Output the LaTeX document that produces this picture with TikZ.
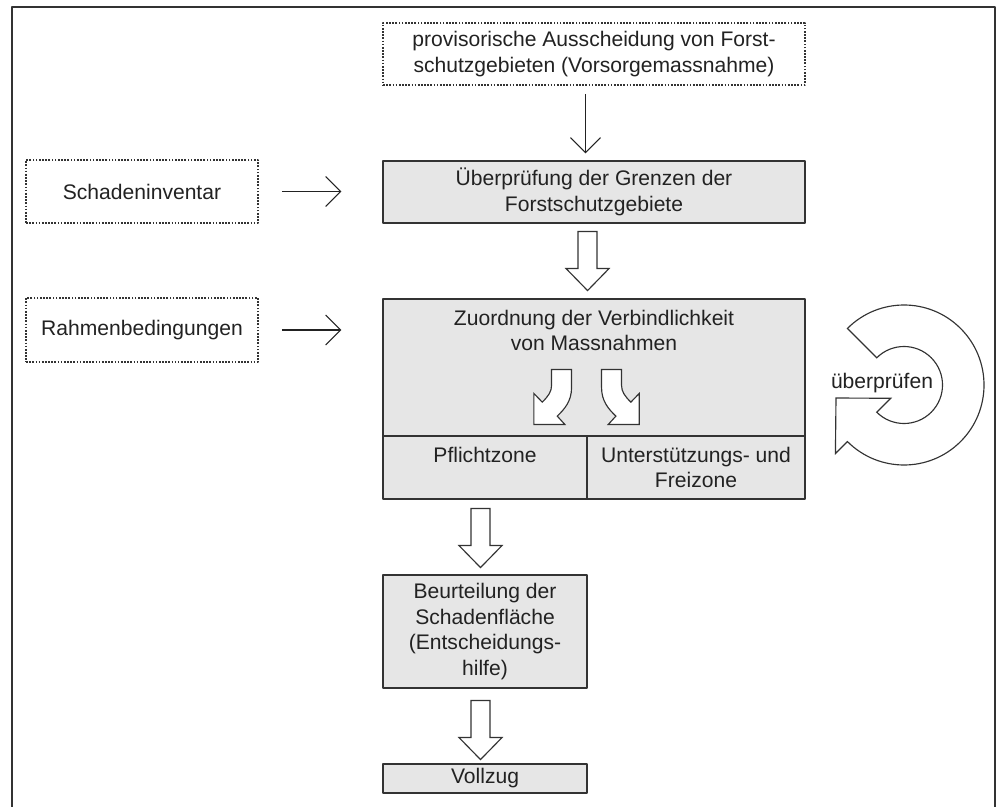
\documentclass[tikz,border=0pt]{standalone}
\usepackage{fontspec}
\setmainfont{Liberation Sans}
\usetikzlibrary{arrows.meta,calc}
\definecolor{boxgray}{HTML}{E6E6E6}
\definecolor{linegray}{HTML}{333333}
\definecolor{txtgray}{HTML}{222222}
\tikzset{
  every node/.style={font=\fontsize{12}{14.6}\selectfont, text=txtgray, align=center},
  dotbox/.style={draw=linegray, line width=0.95pt, dash pattern=on 0.95pt off 0.85pt, inner sep=0pt},
  graybox/.style={draw=linegray, line width=0.65pt, fill=boxgray, inner sep=0pt},
  celltext/.style={anchor=north, inner sep=0pt, yshift=-0.22cm},
  thinarrow/.style={draw=txtgray, line width=0.65pt, -{Straight Barb[length=0.3cm, width=0.6cm]}},
  sidearrow/.style={thinarrow, shorten <=0.46cm, shorten >=0.82cm},
  hollow/.style={draw=linegray, line width=0.65pt, fill=white, line join=miter},
  pics/hollowdown/.style={code={
    \draw[hollow] (-9.5,0) -- (9.5,0) -- (9.5,37) -- (21.5,37) -- (0,59)
      -- (-21.5,37) -- (-9.5,37) -- cycle;}},
  pics/bentarrow/.style={code={
    \draw[hollow] (-10,0) -- (10,0) -- (10,18) .. controls (10,32) and (3,39.5) .. (-4.3,46.7)
      -- (3.3,55) -- (-27.7,55) -- (-27.7,24) -- (-19.3,32.7)
      .. controls (-13,26.5) and (-10,22) .. (-10,16) -- cycle;}}
}
\begin{document}
\begin{tikzpicture}[x=0.02cm,y=-0.02cm,line join=round]
  \useasboundingbox (0,0) rectangle (1000,807);
  \draw[linegray, line width=1.1pt] (12,807) -- (12,7) -- (995,7) -- (995,807);

  \node[dotbox, minimum width=8.44cm, minimum height=1.24cm] (prov) at (594,54)
    {provisorische Ausscheidung von Forst-\\schutzgebieten (Vorsorgemassnahme)};
  \node[graybox, minimum width=8.44cm, minimum height=1.24cm] (pruef) at (594,192)
    {Überprüfung der Grenzen der\\Forstschutzgebiete};
  \node[dotbox, minimum width=4.64cm, minimum height=1.26cm] (inv) at (142,191.5) {Schadeninventar};
  \node[dotbox, minimum width=4.64cm, minimum height=1.28cm] (rahmen) at (142,330) {Rahmenbedingungen};

  \node[graybox, minimum width=8.44cm, minimum height=2.74cm] (zuord) at (594,367.5) {};
  \node[graybox, minimum width=4.08cm, minimum height=1.26cm] (pflicht) at (485,467.5) {};
  \node[graybox, minimum width=4.36cm, minimum height=1.26cm] (frei) at (696,467.5) {};
  \node[celltext] (zuordtxt) at (zuord.north) {Zuordnung der Verbindlichkeit\\von Massnahmen};
  \node[celltext] (pflichttxt) at (pflicht.north) {Pflichtzone};
  \node[celltext] (freitxt) at (frei.north) {Unterstützungs- und\\Freizone};

  \node[graybox, minimum width=4.08cm, minimum height=2.26cm] (beurt) at (485,631.5)
    {Beurteilung der\\Schadenfläche\\(Entscheidungs-\\hilfe)};
  \node[graybox, minimum width=4.08cm, minimum height=0.58cm] (vollzug) at (485,778.5) {Vollzug};

  \draw[thinarrow, shorten <=0.16cm, shorten >=0.14cm]
    ($(prov.south -| pflicht.east)+(-2,0)$) -- ($(pruef.north -| pflicht.east)+(-2,0)$);
  \draw[sidearrow] (inv.east) -- (inv.east -| pruef.west);
  \draw[sidearrow] (rahmen.east) -- (rahmen.east -| zuord.west);

  \pic at ($(pruef.south -| pflicht.east)+(0,8)$) {hollowdown};
  \pic at ($(pflicht.south)+(-4.5,9)$) {hollowdown};
  \pic at ($(beurt.south)+(-4.5,12)$) {hollowdown};
  \pic at ($(pflicht.north east)+(-26,-66)$) {bentarrow};
  \pic[xscale=-1] at ($(pflicht.north east)+(24,-66)$) {bentarrow};

  \coordinate (rc) at (904,385);
  \draw[hollow] ($(rc)+(225:80)$) arc[start angle=225, end angle=495, radius=80]
    -- ($(rc)+(135:97)$) -- (836,398) -- ($(rc)+(135:18.8)$) -- ($(rc)+(135:38.5)$)
    arc[start angle=495, end angle=225, radius=38.5] -- cycle;
  \node (check) at (882,383) {überprüfen};
\end{tikzpicture}
\end{document}
